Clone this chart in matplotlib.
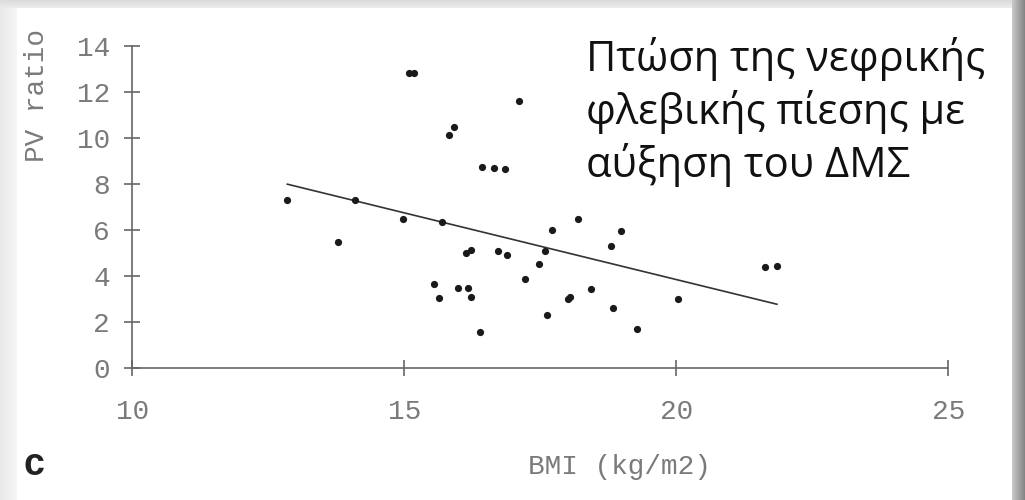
import numpy as np
import matplotlib.pyplot as plt

# BMI vs renal PV ratio, one dot per patient
bmi = [12.85, 13.78, 14.09, 14.98, 15.09, 15.18, 15.55, 15.64, 15.69, 15.82,
       15.92, 15.98, 16.13, 16.17, 16.22, 16.23, 16.40, 16.43, 16.65, 16.72,
       16.85, 16.88, 17.11, 17.22, 17.47, 17.59, 17.63, 17.71, 18.01, 18.04,
       18.20, 18.43, 18.80, 18.83, 18.98, 19.27, 20.04, 21.63, 21.85]
pv_ratio = [7.29, 5.50, 7.29, 6.48, 12.80, 12.80, 3.67, 3.05, 6.36, 10.13,
            10.49, 3.49, 5.02, 3.49, 5.12, 3.09, 1.58, 8.72, 8.68, 5.10,
            8.65, 4.93, 11.62, 3.89, 4.51, 5.10, 2.30, 6.00, 2.99, 3.08,
            6.48, 3.43, 5.31, 2.60, 5.97, 1.72, 2.99, 4.41, 4.44]

# regression line end points
fit_bmi = [12.85, 21.85]
fit_pv = [7.99, 2.78]

x_ticks = [10, 15, 20, 25]
y_ticks = [0, 2, 4, 6, 8, 10, 12, 14]

note_lines = ["Πτώση της νεφρικής", "φλεβικής πίεσης με", "αύξηση του ΔΜΣ"]

W, H = 1025, 500
fig = plt.figure(figsize=(W / 100, H / 100), dpi=100)

# slide-style frame with a soft drop shadow
bg = np.ones((H, W))
bg[:8, :] = np.linspace(0.86, 0.92, 8)[:, None]
bg[:, :17] = np.minimum(bg[:, :17], np.linspace(0.91, 0.96, 17)[None, :])
bg[:, 1012:] = np.linspace(0.78, 0.52, W - 1012)[None, :]
bg_ax = fig.add_axes([0, 0, 1, 1], zorder=-1)
bg_ax.imshow(bg, cmap="gray", vmin=0, vmax=1, aspect="auto",
             interpolation="bilinear")
bg_ax.axis("off")

ax = fig.add_axes([132.3 / W, (H - 368.3) / H, 816 / W, 322.6 / H])
ax.patch.set_alpha(0)

ax.plot(fit_bmi, fit_pv, color="#333333", lw=1.2, zorder=2)
ax.plot(bmi, pv_ratio, "o", ms=5.2, color="#1a1a1a", mec="none", zorder=3)

ax.set_xlim(10, 25)
ax.set_ylim(0, 14)
ax.set_xticks(x_ticks)
ax.set_yticks(y_ticks)

axis_grey = "#666666"
for side in ["top", "right"]:
    ax.spines[side].set_visible(False)
for side in ["left", "bottom"]:
    ax.spines[side].set_color(axis_grey)
    ax.spines[side].set_linewidth(1.2)

mono = "Liberation Mono"
ax.tick_params(direction="inout", length=12, width=1.2, color=axis_grey,
               labelcolor="#7a7a7a", labelsize=20)
ax.tick_params(axis="x", pad=16)
ax.tick_params(axis="y", pad=10)
for lab in ax.get_xticklabels() + ax.get_yticklabels():
    lab.set_fontfamily(mono)

fig.text(36.5 / W, 1 - 95.5 / H, "PV ratio", rotation=90, ha="center",
         va="center", fontsize=20, family=mono, color="#7a7a7a")
fig.text(619 / W, 1 - 467 / H, "BMI (kg/m2)", ha="center", va="center",
         fontsize=20, family=mono, color="#7a7a7a")
fig.text(34 / W, 1 - 465 / H, "c", ha="center", va="center", fontsize=27,
         fontweight="bold", family="Liberation Sans", color="#222222")

baselines = [71, 124, 177]
for line, base in zip(note_lines, baselines):
    fig.text(586 / W, 1 - base / H, line, ha="left", va="baseline",
             fontsize=30, family=["Open Sans", "DejaVu Sans"], color="#111111")

fig.savefig("out.png", dpi=100)
